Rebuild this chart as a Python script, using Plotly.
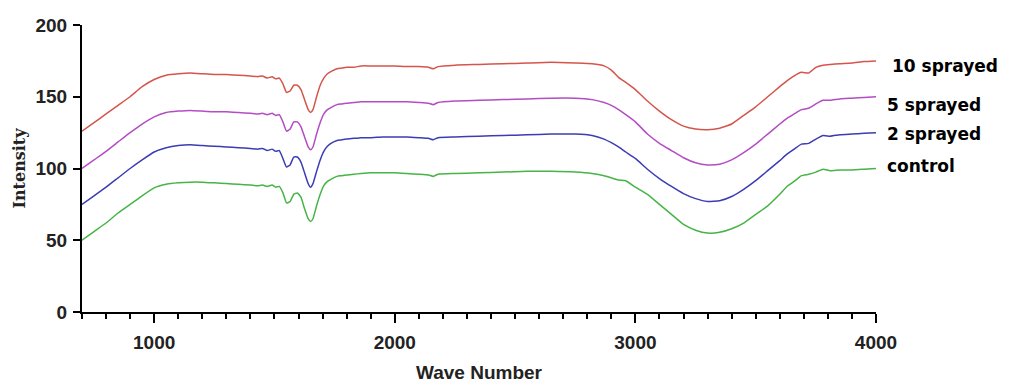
import plotly.graph_objects as go

wave_number = [700, 750, 800, 850, 900, 950, 1000, 1050, 1100, 1150, 1200, 1250, 1300, 1350, 1400, 1430,
               1450, 1470, 1490, 1505, 1520, 1535, 1550, 1565, 1580, 1595, 1610, 1625, 1640, 1650, 1660, 1675,
               1690, 1705, 1720, 1740, 1760, 1780, 1800, 1830, 1860, 1900, 1950, 2000, 2050, 2100, 2140, 2160,
               2180, 2250, 2350, 2450, 2550, 2650, 2750, 2820, 2870, 2900, 2930, 2960, 3000, 3050, 3100, 3150,
               3200, 3250, 3300, 3350, 3400, 3450, 3500, 3550, 3600, 3630, 3660, 3690, 3720, 3750, 3780, 3810,
               3850, 3900, 3950, 4000]

sprayed_10 = [126, 132, 138, 144, 150, 157, 162, 165, 166, 166.5, 166, 165.5, 165.5, 165, 164.5, 164,
              164.5, 163, 164, 162.5, 163, 159, 153, 154, 158, 158, 155, 148, 141, 139, 141, 150,
              158, 163, 166, 168, 169.5, 170, 170.5, 170.5, 171.5, 171.5, 171.5, 171.5, 171, 171, 170.5, 169.5,
              171, 172, 172.5, 173, 173.5, 174, 173.5, 173, 171.5, 168.5, 163.5, 160, 155, 147, 140, 134,
              129.5, 127.5, 127, 128, 131, 137, 143, 150, 157, 161, 164.5, 167, 166.5, 170.5, 172, 172.5,
              173, 173.5, 174.5, 175]

sprayed_5 = [100, 106, 112, 118.5, 125, 131, 136, 139, 140, 140.5, 140, 139.5, 139.5, 139, 138.5, 138,
             138.5, 137.5, 138.5, 137, 137.5, 132.5, 126, 127.5, 132.5, 132.5, 129, 122, 115, 113, 115, 124,
             132, 138, 141, 143, 144.5, 145, 145.5, 146, 146.5, 146.5, 146.5, 146.5, 146.5, 146, 145.5, 144.5,
             146, 147, 147.5, 148, 148.5, 149, 149, 148, 146, 144, 141, 137.5, 132.5, 124, 117.5, 112.5,
             107.5, 104, 102.5, 103, 106, 111, 117, 124, 131, 135, 138, 141, 142, 145, 147.5, 147.5,
             148.5, 149, 149.5, 150]

sprayed_2 = [75, 81, 87, 93.5, 100, 106, 111.5, 114.5, 116, 116.5, 116, 115.5, 115, 114.5, 114, 113.5,
             114, 112.5, 113.5, 112, 112.5, 107, 101, 102.5, 108, 108, 104.5, 97, 89.5, 87, 89.5, 98,
             106, 112, 115.5, 118, 119.5, 120, 120.5, 121, 121.5, 121.5, 122, 122, 122, 121.5, 121, 120,
             121.5, 122, 122.5, 123, 123.5, 124, 124, 123, 120.5, 118, 115, 111.5, 107, 99.5, 93, 87.5,
             82.5, 79, 77, 77.5, 80.5, 85.5, 91.5, 98.5, 105.5, 110, 113.5, 117, 117.5, 120.5, 123, 122.5,
             123.5, 124, 124.5, 125]

control = [50, 56, 62, 69, 75, 81, 86.5, 89, 90, 90.5, 90.5, 90, 89.5, 89, 88.5, 88,
           88.5, 87.5, 88.5, 87, 87.5, 83, 76, 77, 82, 83, 80, 72, 65, 63, 65, 74,
           82, 88, 91, 93, 94.5, 95, 95.5, 96, 96.5, 97, 97, 97, 96.5, 96, 95.5, 94.5,
           96, 96.5, 97, 97.5, 98, 98, 97.5, 96.5, 95, 93.5, 92, 91.5, 87, 82, 75, 68,
           61, 57, 55, 55.5, 58, 62, 68, 74, 82, 87.5, 91, 95, 96, 97.5, 99.5, 98.5,
           99, 99, 99.5, 100]

series_names = ["10 sprayed", "5 sprayed", "2 sprayed", "control"]
series_values = [sprayed_10, sprayed_5, sprayed_2, control]
series_colors = ["#d4554b", "#b44cc4", "#3c3cb4", "#46b446"]
label_x = [1.0176, 1.0113, 1.0113, 1.0113]
label_y = [0.857, 0.721, 0.620, 0.509]

for s in series_values:
    assert len(s) == len(wave_number)

fig = go.Figure()
for name, vals, col in zip(series_names, series_values, series_colors):
    fig.add_trace(go.Scatter(x=wave_number, y=vals, mode="lines", name=name,
                             line=dict(color=col, width=1.5, shape="spline", smoothing=0.4),
                             showlegend=False))

for name, lx, ly in zip(series_names, label_x, label_y):
    fig.add_annotation(x=lx, y=ly, xref="paper", yref="paper", text=name, showarrow=False,
                       xanchor="left", yanchor="middle",
                       font=dict(family="DejaVu Sans", size=17, color="black", weight="bold"))

fig.update_layout(
    width=1005, height=375,
    margin=dict(l=74, r=137, t=17, b=71),
    paper_bgcolor="white", plot_bgcolor="white",
    xaxis=dict(range=[700, 4000], tickvals=[1000, 2000, 3000, 4000],
               ticktext=["1000", "2000", "3000", "4000"], automargin=False,
               showgrid=False, zeroline=False, showline=True, linecolor="black", linewidth=2,
               ticks="outside", ticklen=9, tickwidth=2, tickcolor="black",
               minor=dict(dtick=100, tick0=700, ticks="outside", ticklen=5, tickwidth=1.5, tickcolor="black"),
               tickfont=dict(family="Liberation Sans", size=19, color="#222", weight="bold"),
               ticklabelstandoff=3,
               title=dict(text="Wave Number", standoff=14,
                          font=dict(family="Liberation Sans", size=19, color="#222", weight="bold"))),
    yaxis=dict(range=[0, 200], tickvals=[0, 50, 100, 150, 200], automargin=False,
               showgrid=False, zeroline=False, showline=True, linecolor="black", linewidth=2,
               ticks="outside", ticklen=7, tickwidth=2, tickcolor="black",
               tickfont=dict(family="Liberation Sans", size=19, color="#222", weight="bold"),
               ticklabelstandoff=2,
               title=dict(text="Intensity", standoff=6,
                          font=dict(family="DejaVu Serif", size=16, color="#222", weight="bold"))),
)

fig.write_html("out.html")
